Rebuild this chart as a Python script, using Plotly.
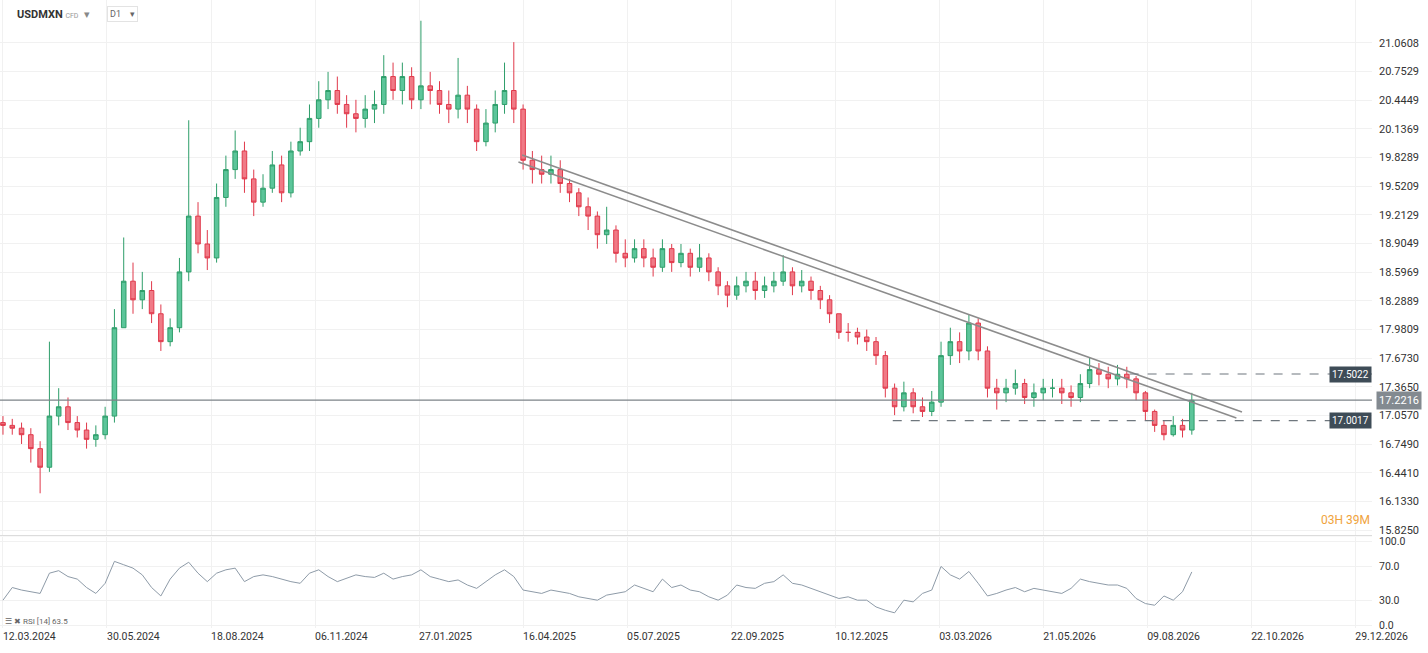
import plotly.graph_objects as go

closes = [16.95,16.92,16.85,16.70,16.50,17.05,17.15,16.98,16.90,16.80,16.85,17.05,18.00,18.50,18.30,18.40,18.15,17.85,18.00,18.60,
19.20,18.90,18.75,19.40,19.70,19.90,19.60,19.35,19.50,19.75,19.45,19.90,20.00,20.25,20.45,20.55,20.40,20.30,20.25,20.35,
20.40,20.70,20.55,20.70,20.45,20.60,20.55,20.40,20.35,20.50,20.35,20.00,20.20,20.40,20.55,20.35,19.80,19.70,19.65,19.70,
19.55,19.45,19.30,19.20,19.00,19.05,18.80,18.75,18.85,18.75,18.65,18.85,18.70,18.80,18.65,18.75,18.60,18.45,18.35,18.45,
18.50,18.40,18.45,18.50,18.60,18.45,18.50,18.40,18.30,18.15,17.95,17.95,17.90,17.85,17.70,17.35,17.15,17.30,17.15,17.10,
17.20,17.70,17.85,17.75,18.05,17.75,17.35,17.30,17.35,17.40,17.25,17.30,17.35,17.35,17.30,17.25,17.40,17.55,17.50,17.45,
17.50,17.45,17.30,17.10,16.95,16.85,16.95,16.90,17.22]
first_open = 16.98
highs = [17.05,17.02,16.98,16.92,16.78,17.85,17.35,17.25,17.05,16.98,16.95,17.15,18.20,18.97,18.70,18.60,18.50,18.25,18.10,18.75,
20.23,19.35,19.05,19.55,19.85,20.12,20.00,19.70,19.65,19.90,19.85,20.00,20.15,20.40,20.65,20.75,20.70,20.50,20.45,20.50,
20.55,20.93,20.85,20.85,20.80,21.30,20.75,20.65,20.55,20.90,20.60,20.40,20.35,20.55,20.85,21.07,20.40,19.90,19.85,19.85,
19.80,19.60,19.50,19.40,19.25,19.30,19.10,18.95,18.95,18.95,18.85,18.95,18.90,18.90,18.85,18.90,18.80,18.65,18.50,18.55,
18.60,18.60,18.55,18.60,18.78,18.65,18.62,18.55,18.45,18.35,18.15,18.05,18.00,17.98,17.90,17.75,17.40,17.42,17.35,17.25,
17.32,17.85,18.00,17.95,18.14,18.10,17.80,17.45,17.45,17.55,17.45,17.40,17.45,17.45,17.45,17.38,17.50,17.68,17.62,17.58,
17.60,17.58,17.48,17.32,17.12,17.00,17.05,17.02,17.30]
lows = [16.85,16.85,16.75,16.55,16.22,16.45,16.95,16.90,16.82,16.70,16.72,16.80,16.98,18.00,18.15,18.20,18.05,17.75,17.80,17.95,
18.50,18.80,18.62,18.70,19.30,19.60,19.45,19.20,19.30,19.45,19.35,19.40,19.85,19.90,20.15,20.35,20.30,20.15,20.10,20.15,
20.20,20.30,20.45,20.40,20.35,20.35,20.40,20.30,20.20,20.25,20.20,19.90,19.95,20.10,20.30,20.20,19.70,19.55,19.55,19.55,
19.45,19.35,19.20,19.05,18.85,18.90,18.70,18.65,18.70,18.65,18.55,18.60,18.60,18.65,18.55,18.60,18.50,18.35,18.22,18.30,
18.38,18.30,18.32,18.38,18.45,18.35,18.38,18.30,18.20,18.05,17.88,17.85,17.82,17.75,17.60,17.25,17.06,17.10,17.08,17.04,
17.05,17.15,17.60,17.62,17.65,17.65,17.25,17.12,17.20,17.28,17.18,17.15,17.22,17.25,17.18,17.15,17.20,17.35,17.38,17.35,
17.38,17.35,17.22,17.00,16.88,16.79,16.83,16.82,16.85]
rsi = [30,45,42,40,38,62,65,58,55,45,38,50,76,72,68,60,45,35,55,68,75,62,52,62,66,68,52,58,60,58,55,52,50,62,66,58,
52,56,60,58,57,62,55,58,60,66,58,55,52,54,48,44,52,60,66,58,42,40,38,42,40,38,34,32,30,36,38,40,48,44,40,55,
45,48,42,40,34,30,36,48,45,44,50,52,60,50,48,44,40,36,32,34,30,30,22,18,15,30,28,38,42,70,60,55,64,50,35,38,
42,45,40,44,42,40,38,44,55,52,50,48,48,44,32,26,24,35,30,40,63.5]
price_ticks = [21.0608,20.7529,20.4449,20.1369,19.8289,19.5209,19.2129,18.9049,18.5969,18.2889,17.9809,17.6730,17.3650,17.0570,16.7490,16.4410,16.1330,15.8250]
date_labels = ["12.03.2024","30.05.2024","18.08.2024","06.11.2024","27.01.2025","16.04.2025","05.07.2025","22.09.2025","10.12.2025","03.03.2026","21.05.2026","09.08.2026","22.10.2026","29.12.2026"]
rsi_ticks = [100.0, 70.0, 30.0, 0.0]
last_price = 17.2216
resistance = 17.5022
support = 17.0017
trend_upper = ([55.9, 133.4], [19.857, 17.093])
trend_lower = ([55.5, 132.8], [19.781, 17.03])

n = len(closes)
assert n == len(highs) == len(lows) == len(rsi)
xs = list(range(n))
opens = [first_open] + closes[:-1]
week_per_label = 104/9.286
tickpos = [i*week_per_label for i in range(len(date_labels))]

fig = go.Figure()
fig.add_trace(go.Candlestick(x=xs, open=opens, high=highs, low=lows, close=closes,
    increasing=dict(line=dict(color="#2e9e6a", width=1), fillcolor="#5cc59a"),
    decreasing=dict(line=dict(color="#e0394b", width=1), fillcolor="#f07a86"),
    whiskerwidth=0, xaxis="x", yaxis="y", showlegend=False, hoverinfo="skip"))
for xv, yv in (trend_upper, trend_lower):
    fig.add_trace(go.Scatter(x=xv, y=yv, mode="lines", line=dict(color="#8c8c8c", width=1.5),
                             xaxis="x", yaxis="y", showlegend=False, hoverinfo="skip"))
fig.add_trace(go.Scatter(x=xs, y=rsi, mode="lines", line=dict(color="#8e9ba8", width=1),
                         xaxis="x2", yaxis="y2", showlegend=False, hoverinfo="skip"))

xr = [-0.32, 147.4]
grid = "#f1f1f1"
fig.update_layout(
    width=1428, height=653, margin=dict(l=0, r=56, t=0, b=25, autoexpand=False),
    paper_bgcolor="white", plot_bgcolor="white",
    font=dict(family="Roboto, Arial, sans-serif", size=11, color="#333"),
    xaxis=dict(domain=[0,1], range=xr, tickvals=tickpos, showticklabels=False, showgrid=True, gridcolor=grid,
               zeroline=False, rangeslider=dict(visible=False), anchor="y", automargin=False),
    yaxis=dict(domain=[0.148,1], range=[15.771, 21.523], side="right", tickvals=price_ticks,
               ticktext=[f"{v:.4f}" for v in price_ticks], showgrid=True, gridcolor=grid, zeroline=False,
               ticks="", ticklabelstandoff=6, automargin=False),
    xaxis2=dict(domain=[0,1], range=xr, tickvals=tickpos, ticktext=date_labels, ticklabelposition="outside right",
                showgrid=True, gridcolor=grid, zeroline=False, anchor="y2", ticks="", automargin=False,
                tickfont=dict(size=10.5)),
    yaxis2=dict(domain=[0,0.145], range=[-3,105], side="right", tickvals=rsi_ticks,
                ticktext=[f"{v:.1f}" for v in rsi_ticks], showgrid=True, gridcolor=grid, zeroline=False,
                anchor="x2", ticklabelstandoff=6, automargin=False, tickfont=dict(size=10.5)),
)
fig.add_shape(type="line", xref="x", yref="y", x0=xr[0], x1=xr[1], y0=last_price, y1=last_price,
              line=dict(color="#7d8388", width=1.2))
fig.add_shape(type="line", xref="x", yref="y", x0=121.3, x1=xr[1], y0=resistance, y1=resistance,
              line=dict(color="#6f777e", width=1.2, dash="dash"))
fig.add_shape(type="line", xref="x", yref="y", x0=95.8, x1=xr[1], y0=support, y1=support,
              line=dict(color="#6f777e", width=1.2, dash="dash"))
fig.add_shape(type="line", xref="paper", yref="paper", x0=0, x1=1, y0=0.147, y1=0.147, line=dict(color="#d5d5d5", width=1))
for v in (resistance, support):
    fig.add_annotation(xref="x", yref="y", x=xr[1], y=v, xanchor="right", text=f"{v:.4f}", showarrow=False,
                       bgcolor="#3e4c57", font=dict(color="white", size=10), borderpad=2)
fig.add_annotation(xref="paper", yref="y", x=1.003, y=last_price, xanchor="left", text=f"{last_price:.4f}",
                   showarrow=False, bgcolor="#838a90", font=dict(color="white", size=11), borderpad=2)
fig.add_annotation(xref="paper", yref="paper", x=0.011, y=1.0, xanchor="left", yanchor="top", showarrow=False,
                   text="<b>USDMXN</b> <span style='font-size:7px;color:#999'>CFD</span>  <span style='color:#888'>▾</span>",
                   font=dict(size=11, color="#333"), yshift=-6)
fig.add_annotation(xref="paper", yref="paper", x=0.078, y=1.0, xanchor="left", yanchor="top", showarrow=False,
                   text="D1    ▾", font=dict(size=9, color="#666"), bordercolor="#e3e3e3", borderwidth=1,
                   borderpad=2, bgcolor="white", yshift=-6)
fig.add_annotation(xref="paper", yref="paper", x=1.0, y=0.158, xanchor="right", yanchor="bottom", showarrow=False,
                   text="03H 39M", font=dict(size=12, color="#f0a33c"))
fig.add_annotation(xref="paper", yref="paper", x=0.002, y=0.0, xanchor="left", yanchor="bottom", showarrow=False,
                   text="☰ ✖ RSI [14] 63.5", font=dict(size=8, color="#666"))
fig.write_html("out.html", config={"displayModeBar": False},
               post_script="document.body.style.margin='0';document.body.style.overflow='hidden';")
